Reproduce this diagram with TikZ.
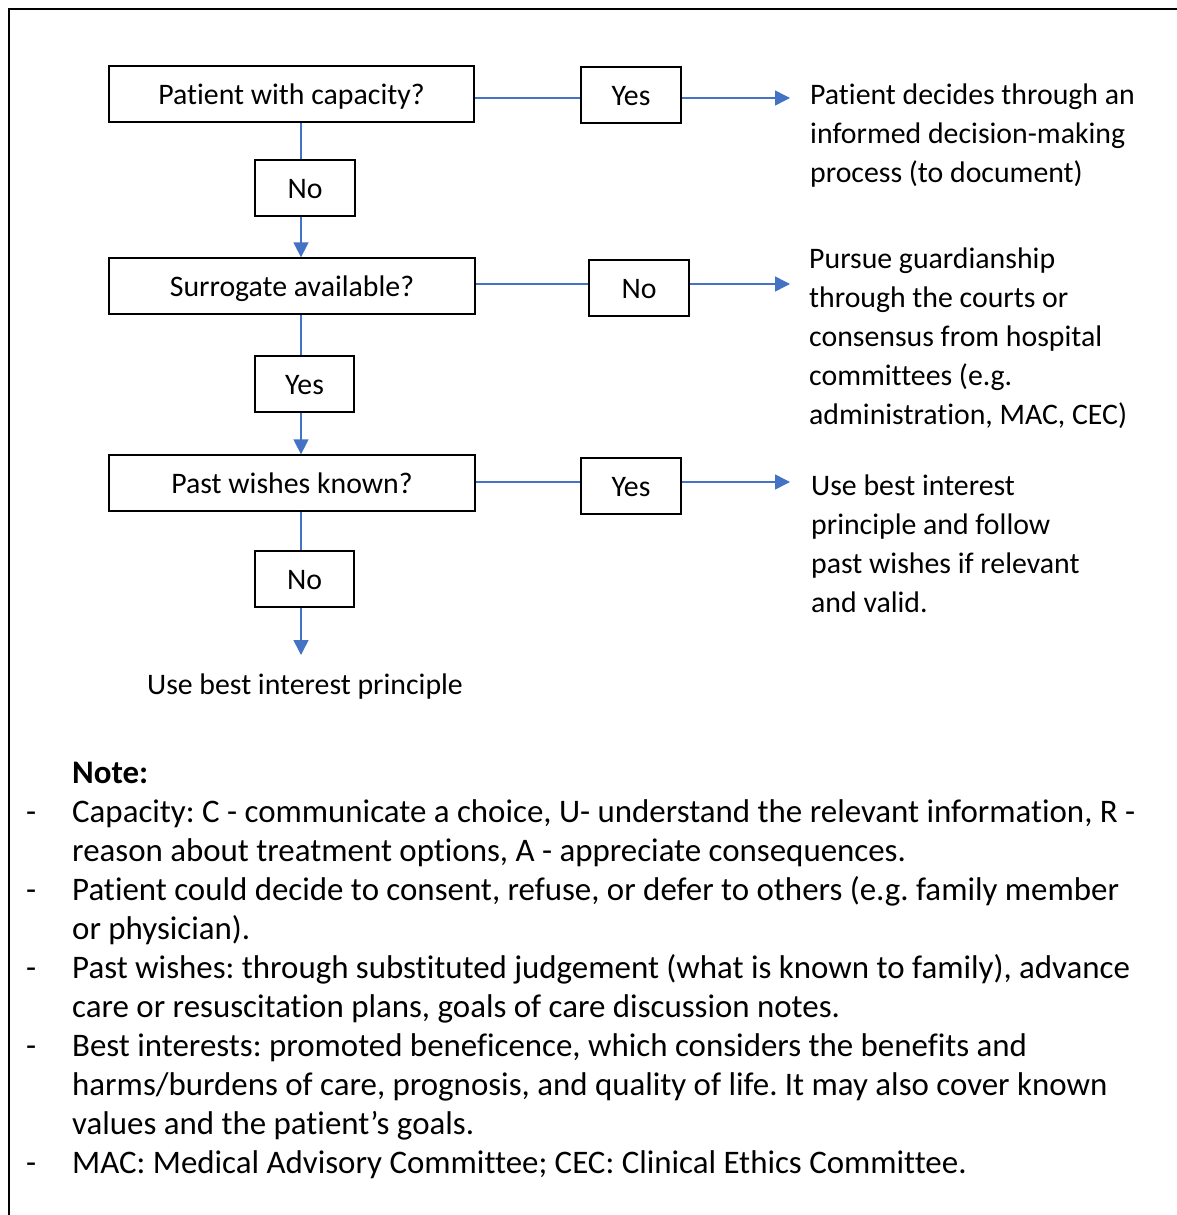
\documentclass[tikz,border=0pt]{standalone}
\usepackage{fontspec}
\setmainfont{Carlito}[Ligatures={NoCommon}]
\frenchspacing
\usetikzlibrary{arrows.meta}
\definecolor{lineblue}{HTML}{4472C4}
\begin{document}
\begin{tikzpicture}[x=1pt,y=-1pt,
  box/.style={draw=black,line width=1.3pt,minimum height=56pt,inner sep=0pt,text height=23pt,text depth=2pt,font=\fontsize{29.8}{35}\selectfont},
  conn/.style={draw=lineblue,line width=1.5pt},
  arr/.style={conn,-{Triangle[length=15pt,width=15pt]}},
  side/.style={anchor=base west,align=left,inner sep=0pt,font=\fontsize{29.8}{39}\selectfont},
  note/.style={anchor=base west,align=left,inner sep=0pt,font=\fontsize{32.9}{39}\selectfont},
  dashmark/.style={anchor=base west,inner sep=0pt,font=\fontsize{32.9}{39}\selectfont}
]
\useasboundingbox (0,0) rectangle (1177,1215);
\clip (0,0) rectangle (1177,1215);
\draw[line width=2.5pt] (9,9) rectangle (1260,1300);

% decision boxes
\node[box,minimum width=365pt] (q1) at (291.5,94) {Patient with capacity?};
\node[box,minimum width=366pt] (q2) at (292,286) {Surrogate available?};
\node[box,minimum width=366pt] (q3) at (292,483) {Past wishes known?};

% answer boxes
\node[box,minimum width=100pt] (n1) at (305,188) {No};
\node[box,minimum width=99pt] (y2) at (304.5,384) {Yes};
\node[box,minimum width=99pt] (n3) at (304.5,579) {No};
\node[box,minimum width=100pt] (ya) at (631,95) {Yes};
\node[box,minimum width=100pt] (nb) at (639,288) {No};
\node[box,minimum width=100pt] (yc) at (631,486) {Yes};

% vertical line x
\coordinate (vx) at (301,0);

\draw[conn] (q1.south -| vx) -- (n1.north -| vx);
\draw[arr] (n1.south -| vx) -- (q2.north -| vx);
\draw[conn] (q2.south -| vx) -- (y2.north -| vx);
\draw[arr] (y2.south -| vx) -- (q3.north -| vx);
\draw[conn] (q3.south -| vx) -- (n3.north -| vx);
\coordinate (endb) at (301,655);
\draw[arr] (n3.south -| vx) -- (endb);
\node[inner sep=0pt,anchor=base,font=\fontsize{29.8}{35}\selectfont] (ub) at (305,694) {Use best interest principle};

% horizontal rows
\coordinate (h1) at (0,98);
\coordinate (h2) at (0,284);
\coordinate (h3) at (0,482);
\coordinate (t1) at (790,98);
\coordinate (t2) at (790,284);
\coordinate (t3) at (790,482);
\draw[conn] (q1.east |- h1) -- (ya.west |- h1);
\draw[arr] (ya.east |- h1) -- (t1);
\draw[conn] (q2.east |- h2) -- (nb.west |- h2);
\draw[arr] (nb.east |- h2) -- (t2);
\draw[conn] (q3.east |- h3) -- (yc.west |- h3);
\draw[arr] (yc.east |- h3) -- (t3);

% outcome texts (anchored at the baseline of the last line)
\node[side] (r1) at (810,182) {Patient decides through an\\informed decision-making\\process (to document)};
\node[side] (r2) at (809,424) {Pursue guardianship\\through the courts or\\consensus from hospital\\committees (e.g.\\administration, MAC, CEC)};
\node[side] (r3) at (811,612) {Use best interest\\principle and follow\\past wishes if relevant\\and valid.};

% notes
\node[note,font=\fontsize{32.9}{39}\selectfont\bfseries] (nt) at (72,783) {Note:};
\node[dashmark] (d1) at (26,822) {-};
\node[note] (i1) at (72,861) {Capacity: C - communicate a choice, U- understand the relevant information, R -\\reason about treatment options, A - appreciate consequences.};
\node[dashmark] (d2) at (26,900) {-};
\node[note] (i2) at (72,939) {Patient could decide to consent, refuse, or defer to others (e.g. family member\\or physician).};
\node[dashmark] (d3) at (26,978) {-};
\node[note] (i3) at (72,1017) {Past wishes: through substituted judgement (what is known to family), advance\\care or resuscitation plans, goals of care discussion notes.};
\node[dashmark] (d4) at (26,1056) {-};
\node[note] (i4) at (72,1134) {Best interests: promoted beneficence, which considers the benefits and\\harms/burdens of care, prognosis, and quality of life. It may also cover known\\values and the patient’s goals.};
\node[dashmark] (d5) at (26,1173) {-};
\node[note] (i5) at (72,1173) {MAC: Medical Advisory Committee; CEC: Clinical Ethics Committee.};
\end{tikzpicture}
\end{document}
